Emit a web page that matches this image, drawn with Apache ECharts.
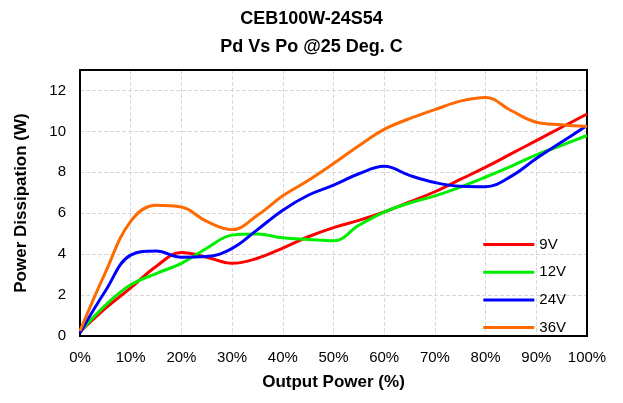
<!DOCTYPE html>
<html>
<head>
<meta charset="utf-8">
<script src="https://cdn.jsdelivr.net/npm/echarts@6/dist/echarts.min.js"></script>
<style>
  html, body { margin: 0; padding: 0; background: #fff; }
  #chart { width: 623px; height: 403px; }
</style>
</head>
<body>
<div id="chart"></div>
<script>
// output power (%)
const outputPower = [0, 5, 10, 15, 20, 25, 30, 35, 40, 45, 50, 55, 60, 65, 70, 75, 80, 85, 90, 95, 100];
// power dissipation (W) per input voltage
const pd9V  = [0.2, 1.35, 2.35, 3.4, 4.08, 3.85, 3.55, 3.8, 4.3, 4.85, 5.3, 5.65, 6.06, 6.55, 7.05, 7.65, 8.25, 8.9, 9.55, 10.2, 10.85];
const pd12V = [0.2, 1.5, 2.5, 3.05, 3.55, 4.29, 4.93, 4.98, 4.8, 4.72, 4.65, 5.41, 6.06, 6.5, 6.85, 7.28, 7.77, 8.29, 8.85, 9.32, 9.8];
const pd24V = [0.15, 2.2, 3.95, 4.15, 3.85, 3.88, 4.28, 5.2, 6.15, 6.88, 7.37, 7.93, 8.29, 7.85, 7.5, 7.32, 7.3, 7.8, 8.67, 9.48, 10.29];
const pd36V = [0.25, 3.1, 5.6, 6.39, 6.3, 5.6, 5.2, 5.9, 6.85, 7.6, 8.43, 9.3, 10.1, 10.62, 11.06, 11.48, 11.66, 11.02, 10.45, 10.33, 10.24];
const seriesNames = ['9V', '12V', '24V', '36V'];
const seriesColors = ['#ff0000', '#00ee00', '#0000ff', '#ff6a00'];

const chart = echarts.init(document.getElementById('chart'));

function pairs(ys) {
  return outputPower.map((x, i) => [x, ys[i]]);
}

const allData = [pd9V, pd12V, pd24V, pd36V];

const option = {
  animation: false,
  title: {
    text: 'CEB100W-24S54\nPd Vs Po @25 Deg. C',
    left: 'center',
    top: 0,
    textStyle: {
      fontFamily: 'Liberation Sans',
      fontSize: 18,
      fontWeight: 'bold',
      color: '#000',
      lineHeight: 28
    }
  },
  grid: {
    left: 80,
    right: 36,
    top: 70,
    bottom: 67,
    show: true,
    borderColor: '#000',
    borderWidth: 2,
    z: 3
  },
  legend: {
    orient: 'vertical',
    right: 52,
    top: 232,
    itemWidth: 51,
    itemHeight: 14,
    itemGap: 12.7,
    icon: 'path://M0,6 L51,6 L51,9 L0,9 Z',
    textStyle: { fontFamily: 'Liberation Sans', fontSize: 15, color: '#000' },
    data: seriesNames
  },
  xAxis: {
    type: 'value',
    min: 0,
    max: 100,
    interval: 10,
    name: 'Output Power (%)',
    nameLocation: 'middle',
    nameGap: 38,
    nameTextStyle: { fontFamily: 'Liberation Sans', fontSize: 17, fontWeight: 'bold', color: '#000' },
    axisLine: { show: true, lineStyle: { color: '#000', width: 2 } },
    axisTick: { show: false },
    axisLabel: { formatter: '{value}%', fontFamily: 'Liberation Sans', fontSize: 15, color: '#000', margin: 14 },
    splitLine: { show: true, showMinLine: false, showMaxLine: false, lineStyle: { color: '#d9d9d9', type: 'dashed' } }
  },
  yAxis: {
    type: 'value',
    min: 0,
    max: 13,
    interval: 2,
    name: 'Power Dissipation (W)',
    nameLocation: 'middle',
    nameGap: 50,
    nameTextStyle: { fontFamily: 'Liberation Sans', fontSize: 17, fontWeight: 'bold', color: '#000' },
    axisLine: { show: true, lineStyle: { color: '#000', width: 2 } },
    axisTick: { show: false },
    axisLabel: { showMaxLabel: false, fontFamily: 'Liberation Sans', fontSize: 15, color: '#000', margin: 14 },
    splitLine: { show: true, showMinLine: false, showMaxLine: false, lineStyle: { color: '#d9d9d9', type: 'dashed' } }
  },
  series: seriesNames.map((name, i) => ({
    name: name,
    type: 'line',
    smooth: 0.4,
    symbol: 'none',
    color: seriesColors[i],
    lineStyle: { width: 3, color: seriesColors[i] },
    data: pairs(allData[i])
  }))
};

chart.setOption(option);
</script>
</body>
</html>
